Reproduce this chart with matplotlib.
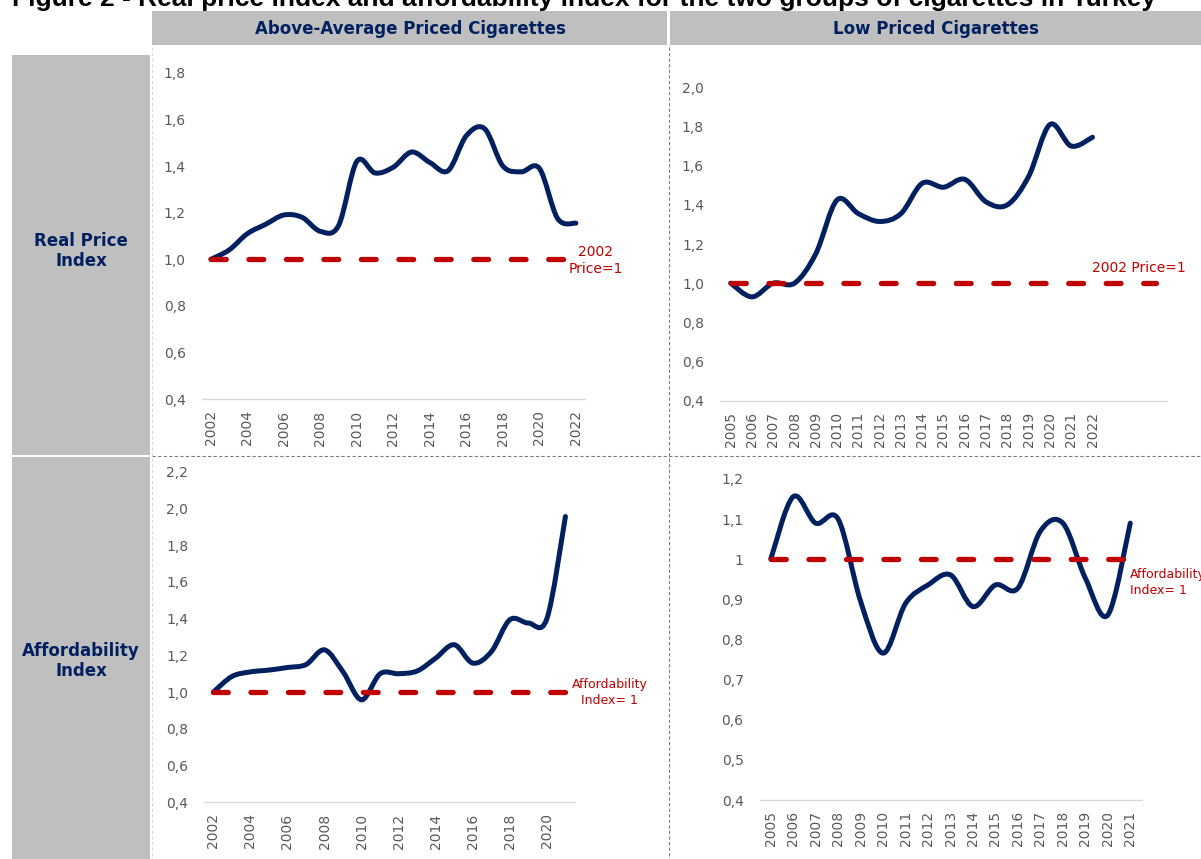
import numpy as np
import matplotlib
matplotlib.use('Agg')
import matplotlib.pyplot as plt
from matplotlib.path import Path
from matplotlib.patches import PathPatch, Rectangle
from matplotlib.lines import Line2D

# ---- datos ----
anios_alto = list(range(2002, 2023))
precio_real_alto = [1.00, 1.04, 1.11, 1.15, 1.19, 1.18, 1.12, 1.145, 1.42, 1.37, 1.395,
                    1.46, 1.415, 1.38, 1.53, 1.56, 1.40, 1.375, 1.39, 1.175, 1.155]

anios_bajo = list(range(2005, 2023))
anios_bajo_eje = [str(a) for a in anios_bajo] + ['', '', '']
precio_real_bajo = [1.00, 0.93, 1.00, 1.00, 1.15, 1.425, 1.355, 1.315, 1.355, 1.51,
                    1.49, 1.53, 1.415, 1.40, 1.545, 1.81, 1.70, 1.745]

anios_asequ_alto = list(range(2002, 2022))
asequ_alto = [1.00, 1.085, 1.11, 1.12, 1.134, 1.15, 1.23, 1.11, 0.958, 1.10, 1.10,
              1.115, 1.185, 1.258, 1.158, 1.22, 1.394, 1.376, 1.40, 1.956]

anios_asequ_bajo = list(range(2005, 2022))
asequ_bajo = [1.00, 1.156, 1.09, 1.10, 0.895, 0.766, 0.89, 0.936, 0.961, 0.882,
              0.936, 0.928, 1.07, 1.09, 0.953, 0.861, 1.09]

referencia = 1.0

yticks_real_alto = [0.4, 0.6, 0.8, 1.0, 1.2, 1.4, 1.6, 1.8]
yticks_real_bajo = [0.4, 0.6, 0.8, 1.0, 1.2, 1.4, 1.6, 1.8, 2.0]
yticks_asequ_alto = [0.4, 0.6, 0.8, 1.0, 1.2, 1.4, 1.6, 1.8, 2.0, 2.2]
yticks_asequ_bajo = [0.4, 0.5, 0.6, 0.7, 0.8, 0.9, 1.0, 1.1, 1.2]

titulo = "Figure 2 - Real price index and affordability index for the two groups of cigarettes in Turkey"
col_titulos = ["Above-Average Priced Cigarettes", "Low Priced Cigarettes"]
fila_titulos = ["Real Price\nIndex", "Affordability\nIndex"]

AZUL = '#002060'
ROJO = '#C00000'
GRIS_TXT = '#595959'
GRIS = '#BFBFBF'

W, H = 1201, 859
fig = plt.figure(figsize=(W / 100, H / 100), dpi=100)
plt.rcParams['font.family'] = 'DejaVu Sans'


def caja(x0, y0, x1, y1):
    # pixeles (origen arriba) -> fraccion de figura
    return [x0 / W, 1 - y1 / H, (x1 - x0) / W, (y1 - y0) / H]


def suave(ax, x, y, **kw):
    # linea suavizada estilo Excel (Bezier por los puntos)
    pts = np.column_stack([np.asarray(x, float), np.asarray(y, float)])
    verts = [pts[0]]
    codes = [Path.MOVETO]
    n = len(pts)
    for i in range(n - 1):
        p0 = pts[max(i - 1, 0)]
        p1 = pts[i]
        p2 = pts[i + 1]
        p3 = pts[min(i + 2, n - 1)]
        verts += [p1 + (p2 - p0) / 6, p2 - (p3 - p1) / 6, p2]
        codes += [Path.CURVE4] * 3
    ax.add_patch(PathPatch(Path(verts, codes), fill=False, **kw))


def rect(x0, y0, x1, y1, color):
    b = caja(x0, y0, x1, y1)
    fig.add_artist(Rectangle((b[0], b[1]), b[2], b[3], transform=fig.transFigure,
                             facecolor=color, edgecolor='none', zorder=0))


def linea(xs, ys, **kw):
    fig.add_artist(Line2D([x / W for x in xs], [1 - y / H for y in ys],
                          transform=fig.transFigure, **kw))


# ---- fondo: encabezados y separadores ----
rect(152, 11, 667, 45, GRIS)
rect(670, 11, 1201, 45, GRIS)
rect(12, 55, 150, 455, GRIS)
rect(12, 457, 150, 859, GRIS)
fig.text(410 / W, 1 - 29 / H, col_titulos[0], ha='center', va='center',
         fontsize=12, fontweight='bold', color=AZUL)
fig.text(936 / W, 1 - 29 / H, col_titulos[1], ha='center', va='center',
         fontsize=12, fontweight='bold', color=AZUL)
fig.text(81 / W, 1 - 251 / H, fila_titulos[0], ha='center', va='center',
         fontsize=12, fontweight='bold', color=AZUL, linespacing=1.15)
fig.text(81 / W, 1 - 661 / H, fila_titulos[1], ha='center', va='center',
         fontsize=12, fontweight='bold', color=AZUL, linespacing=1.15)
# el titulo queda cortado por arriba, como en la imagen original
fig.text(12 / W, 1 - 6 / H, titulo, ha='left', va='baseline', fontsize=19,
         fontweight='bold', family='Liberation Sans', color='black')

linea([668.5, 668.5], [47, 859], color='#7F7F7F', lw=0.8, dashes=(3, 2))
linea([152, 1201], [455.5, 455.5], color='#7F7F7F', lw=0.8, dashes=(3, 2))
linea([152, 152], [47, 859], color='#D9D9D9', lw=0.8, dashes=(3, 2))


def panel(pos, cats, valores, yticks, ylabels, ylim, n_ref, xt_step=1):
    ax = fig.add_axes(caja(*pos))
    idx = np.arange(len(valores))
    suave(ax, idx, valores, edgecolor=AZUL, lw=3.6, capstyle='round',
          joinstyle='round', zorder=2)
    ax.plot(np.arange(n_ref), [referencia] * n_ref, color=ROJO, lw=3.8,
            dashes=(2.8, 4.3), dash_capstyle='round', zorder=3)
    ax.set_xlim(-0.5, len(cats) - 0.5)
    ax.set_ylim(*ylim)
    ax.set_xticks(np.arange(0, len(cats), xt_step))
    ax.set_xticklabels(cats[::xt_step], rotation=90)
    ax.set_yticks(yticks)
    ax.set_yticklabels(ylabels)
    for s in ['top', 'right', 'left']:
        ax.spines[s].set_visible(False)
    ax.spines['bottom'].set_color('#D9D9D9')
    ax.spines['bottom'].set_linewidth(1.0)
    ax.tick_params(axis='both', length=0, labelsize=10, labelcolor=GRIS_TXT)
    ax.tick_params(axis='y', pad=11.5)
    ax.tick_params(axis='x', pad=8)
    ax.patch.set_alpha(0)
    return ax


coma = lambda v: f"{v:.1f}".replace('.', ',')
general = lambda v: ('%g' % v).replace('.', ',')

# arriba izquierda
ax1 = panel((201.7, 72.7, 585.0, 399.3), [str(a) for a in anios_alto], precio_real_alto,
            yticks_real_alto, [coma(v) for v in yticks_real_alto], (0.4, 1.8),
            len(anios_alto), xt_step=2)
ax1.text(21.1, 0.995, "2002\nPrice=1", ha='center', va='center', fontsize=10,
         color=ROJO, clip_on=False, linespacing=1.3)

# arriba derecha
ax2 = panel((720.0, 87.3, 1167.0, 400.7), anios_bajo_eje, precio_real_bajo,
            yticks_real_bajo, [coma(v) for v in yticks_real_bajo], (0.4, 2.0),
            len(anios_bajo_eje))
ax2.text(19.2, 1.077, "2002 Price=1", ha='center', va='center', fontsize=10,
         color=ROJO, clip_on=False)

# abajo izquierda
ax3 = panel((204.1, 471.7, 574.7, 802.3), [str(a) for a in anios_asequ_alto], asequ_alto,
            yticks_asequ_alto, [coma(v) for v in yticks_asequ_alto], (0.4, 2.2),
            len(anios_asequ_alto), xt_step=2)
ax3.text(21.4, 0.996, "Affordability\nIndex= 1", ha='center', va='center', fontsize=9,
         color=ROJO, clip_on=False, linespacing=1.3)

# abajo derecha
ax4 = panel((759.5, 479.0, 1141.5, 800.0), [str(a) for a in anios_asequ_bajo], asequ_bajo,
            yticks_asequ_bajo, [general(v) for v in yticks_asequ_bajo], (0.4, 1.2),
            len(anios_asequ_bajo))
ax4.text(16.0, 0.941, "Affordability\nIndex= 1", ha='left', va='center', fontsize=9,
         color=ROJO, clip_on=False, linespacing=1.3)

fig.savefig('out.png', dpi=100)
